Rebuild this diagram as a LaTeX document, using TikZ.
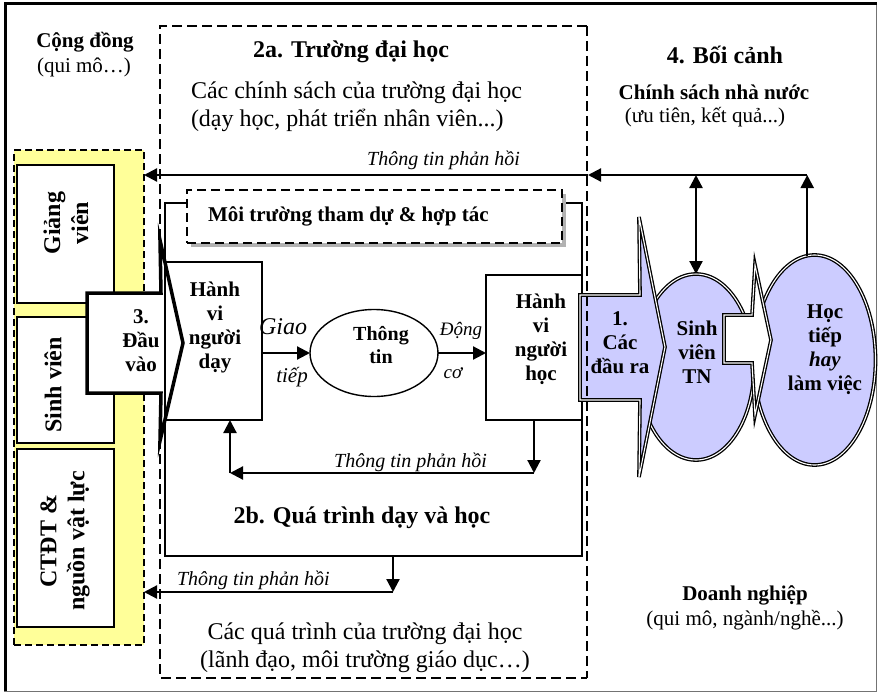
\documentclass[tikz,border=0pt]{standalone}
\usepackage{fontspec}
\setmainfont{Liberation Serif}
\usetikzlibrary{arrows.meta,shapes.geometric}
\definecolor{lav}{RGB}{204,204,255}
\definecolor{ylw}{RGB}{255,255,153}
\definecolor{shadowgray}{RGB}{178,178,178}
\begin{document}
\begin{tikzpicture}[x=1pt,y=-1pt,
  every node/.style={inner sep=0pt, outer sep=0pt, align=center},
  nt/.style={font=\fontsize{21}{24}\selectfont},
  bt/.style={font=\fontsize{21}{24}\selectfont\bfseries},
  big/.style={font=\fontsize{24}{28}\selectfont},
  bigb/.style={font=\fontsize{24}{28}\selectfont\bfseries},
  it/.style={font=\fontsize{20}{23}\selectfont\itshape},
  boxb/.style={draw, line width=1.4pt, fill=white},
  tip/.style={-{Triangle[length=13pt,width=13pt]}},
  arr/.style={line width=2.2pt, tip},
  dbl/.style={draw=black, line width=1.3pt, double=white, double distance=1.1pt},
  dash2a/.style={line width=2pt, dash pattern=on 10pt off 5pt},
  dashy/.style={line width=1.8pt, dash pattern=on 7pt off 4pt}
]
\useasboundingbox (0,0) rectangle (880,693);
% frame
\draw[line width=0.8pt, black!55] (876,4) -- (876,691) -- (4,691);
\draw[line width=3pt] (5,691) -- (5,4) -- (877,4);

% 2a dashed box (top, left, bottom)
\draw[dash2a] (587,26) -- (160,26) -- (160,678) -- (587,678);

% yellow region
\node[draw, dashy, fill=ylw, minimum width=130pt, minimum height=495pt] (yreg) at (79,397.5) {};
\node[boxb, minimum width=97pt, minimum height=138pt] (gv) at (65.5,234) {};
\node[boxb, minimum width=97pt, minimum height=126pt] (svb) at (65.5,380) {};
\node[boxb, minimum width=97pt, minimum height=178pt] (ct) at (65.5,538) {};
\node[bigb, rotate=90] (gvt) at (66,223) {Giảng\\viên};
\node[bigb, rotate=90] (svt) at (53,385) {Sinh viên};
\node[bigb, rotate=90] (ctt) at (65,541) {CTĐT \&\\nguồn vật lực};

% 2b box
\node[draw, line width=1.4pt, minimum width=417pt, minimum height=353pt] (b2b) at (373.5,379.5) {};
% environment box with shadow
\fill[shadowgray] (191,194) rectangle (566,247);
\node[draw, fill=white, line width=1.8pt, dash pattern=on 9pt off 5pt, minimum width=375pt, minimum height=53pt] (env) at (374.5,216.5) {};
\node[bt, anchor=west] (envt) at (208,216) {Môi trường tham dự \& hợp tác};

% input arrow
\draw[line width=3.5pt, fill=white, line join=miter] (87,293) -- (161,293) -- (160,240) -- (183,343) -- (160,441) -- (161,393) -- (87,393) -- cycle;
\node[bt] (inp) at (141,341) {3.\\Đầu\\vào};

% teacher / learner boxes
\node[draw, line width=1.4pt, minimum width=97pt, minimum height=158pt] (teacher) at (213.5,341) {};
\node[bt] (teachert) at (215,327) {Hành\\vi\\người\\dạy};
\node[draw, fill=white, line width=1.4pt, minimum width=96pt, minimum height=145pt] (learner) at (534,347.5) {};
\node[bt] (learnert) at (541,339) {Hành\\vi\\người\\học};
\node[draw, fill=white, line width=1.4pt, ellipse, minimum width=128pt, minimum height=87pt] (thong) at (374,353) {};
\node[font=\fontsize{20}{23}\selectfont\bfseries] (thongt) at (381,345) {Thông\\tin};

\draw[arr] (teacher.east |- thong.west) -- (thong.west);
\draw[arr] (thong.east) -- (learner.west |- thong.east);
\node[font=\fontsize{24}{28}\selectfont\itshape] (giao) at (283,327) {Giao};
\node[font=\fontsize{21}{24}\selectfont\itshape] (tiep) at (292,377) {tiếp};
\node[font=\fontsize{19}{22}\selectfont\itshape] (dong) at (461,331) {Động};
\node[font=\fontsize{19}{22}\selectfont\itshape] (co) at (453,373) {cơ};

% inner feedback
\coordinate (lc) at (534,473);
\coordinate (tc) at (230,473);
\draw[arr] (learner.south) -- (lc);
\draw[arr] (lc) -- (tc);
\draw[arr] (tc) -- (tc |- teacher.south);
\node[it, anchor=east] (fb2) at (487,462) {Thông tin phản hồi};

\node[bigb] (b2t) at (362,518) {2b. Quá trình dạy và học};

% bottom feedback
\coordinate (bf1) at (393,556);
\coordinate (bf2) at (393,592);
\coordinate (yR2) at (144,592);
\draw[arr] (bf1) -- (bf2);
\draw[arr] (bf2) -- (yR2);
\node[it, anchor=west] (fb3) at (177,580) {Thông tin phản hồi};

% texts
\node[bt] (cd) at (85,42) {Cộng đồng};
\node[nt] (cdq) at (84,67) {(qui mô…)};
\node[bigb] (h2a) at (351,52) {2a. Trường đại học};
\node[big, anchor=west, align=left] (cs) at (191,107) {Các chính sách của trường đại học\\(dạy học, phát triển nhân viên...)};
\node[big] (qt) at (365,648) {Các quá trình của trường đại học\\(lãnh đạo, môi trường giáo dục…)};
\node[bigb] (h4) at (725,55) {4. Bối cảnh};
\node[bt] (csn) at (714,92) {Chính sách nhà nước};
\node[nt] (csnq) at (705,117) {(ưu tiên, kết quả...)};
\node[bt] (dn) at (745,595) {Doanh nghiệp};
\node[nt] (dnq) at (745,620) {(qui mô, ngành/nghề...)};

% right side ellipses
\node[dbl, fill=lav, ellipse, minimum width=116pt, minimum height=186pt] (sv) at (696,367) {};
\draw[dbl, fill=lav, line join=miter] (580,295) -- (640,295) -- (639,217) -- (665,347) -- (639,477) -- (640,400) -- (580,400) -- cycle;
\node[bt] (outt) at (620,343) {1.\\Các\\đầu ra};
\node[bt] (svtx) at (697,352) {Sinh\\viên\\TN};
\node[dbl, fill=lav, ellipse, minimum width=122pt, minimum height=210pt] (ht) at (814.5,360) {};
\node[bt] (htt) at (825,350) {Học\\tiếp\\\textit{hay}\\làm việc};
\draw[dbl, fill=white, line join=miter] (724,315) -- (752,315) -- (755,265) -- (771,340) -- (755,415) -- (752,363) -- (724,363) -- cycle;

% 2a right dashed edge (over output arrow)
\draw[dash2a] (587,26) -- (587,678);

% top feedback
\coordinate (aR1) at (588,175);
\coordinate (yR1) at (144,175);
\draw[arr] (ht.94) -- (ht.94 |- aR1);
\draw[arr] (ht.94 |- aR1) -- (aR1);
\draw[arr] (aR1) -- (yR1);
\draw[line width=2.2pt, {Triangle[length=13pt,width=13pt]}-{Triangle[length=13pt,width=13pt]}] (sv.north) -- (sv.north |- aR1);
\node[it, anchor=east] (fb1) at (520,160) {Thông tin phản hồi};
\end{tikzpicture}
\end{document}
